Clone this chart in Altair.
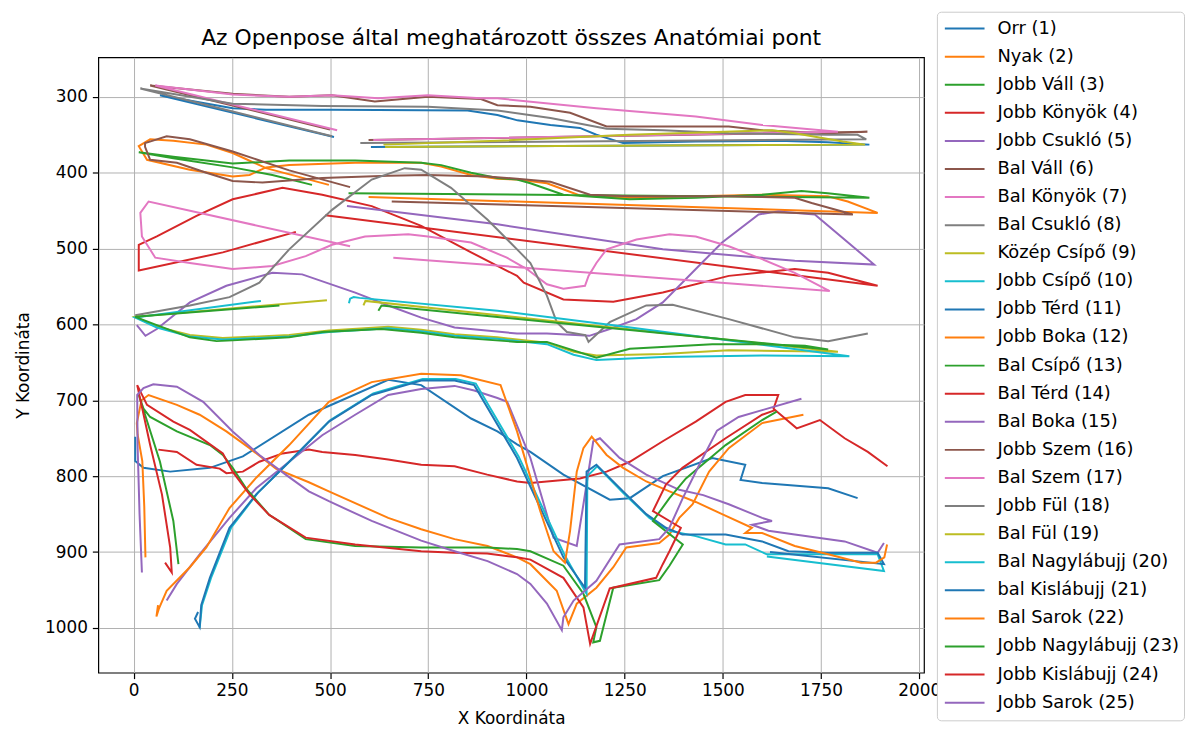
import altair as alt
import pandas as pd

NAMES = ["Orr (1)", "Nyak (2)", "Jobb Váll (3)", "Jobb Könyök (4)", "Jobb Csukló (5)",
         "Bal Váll (6)", "Bal Könyök (7)", "Bal Csukló (8)", "Közép Csípő (9)", "Jobb Csípő (10)",
         "Jobb Térd (11)", "Jobb Boka (12)", "Bal Csípő (13)", "Bal Térd (14)", "Bal Boka (15)",
         "Jobb Szem (16)", "Bal Szem (17)", "Jobb Fül (18)", "Bal Fül (19)", "Bal Nagylábujj (20)",
         "bal Kislábujj (21)", "Bal Sarok (22)", "Jobb Nagylábujj (23)", "Jobb Kislábujj (24)", "Jobb Sarok (25)"]

TAB10 = ["#1f77b4", "#ff7f0e", "#2ca02c", "#d62728", "#9467bd",
         "#8c564b", "#e377c2", "#7f7f7f", "#bcbd22", "#17becf"]

X_TICKS = [0, 250, 500, 750, 1000, 1250, 1500, 1750, 2000]
Y_TICKS = [300, 400, 500, 600, 700, 800, 900, 1000]

ORR_X = [510, 67, 252, 337, 505, 850, 926, 977, 1061, 1136, 1178, 1246, 1431, 1641, 1767, 1873, 604]
ORR_Y = [353, 298, 315, 317, 317, 318, 324, 331, 337, 341, 350, 361, 359, 358, 360, 363, 366]

NYAK_X = [497, 337, 252, 185, 101, 42, 13, 34, 143, 252, 295, 337, 396, 564, 732, 783, 859, 926, 976, 1052, 1136, 1263, 1431, 1600, 1767, 1818, 1894, 598]
NYAK_Y = [416, 394, 374, 363, 358, 356, 365, 383, 396, 405, 403, 393, 390, 387, 387, 392, 403, 408, 409, 414, 430, 433, 431, 429, 431, 438, 453, 432]

JVALL_X = [454, 353, 252, 101, 13, 101, 252, 396, 564, 732, 783, 859, 926, 976, 1010, 1094, 1263, 1431, 1600, 1700, 1767, 1873, 547]
JVALL_Y = [416, 403, 393, 381, 373, 379, 388, 384, 384, 387, 390, 400, 407, 409, 414, 429, 435, 433, 429, 424, 427, 433, 427]

JKONYOK_X = [413, 227, 13, 13, 59, 160, 252, 379, 480, 606, 732, 859, 976, 993, 1094, 1221, 1347, 1515, 1683, 1768, 1894, 488]
JKONYOK_Y = [478, 505, 529, 495, 484, 457, 435, 420, 429, 444, 470, 505, 536, 545, 567, 570, 558, 536, 527, 532, 549, 456]

JCSUKLO_X = [8, 30, 59, 143, 236, 353, 429, 564, 648, 732, 817, 976, 1052, 1160, 1212, 1280, 1347, 1448, 1498, 1591, 1641, 1734, 1885, 1683, 1347, 926, 543]
JCSUKLO_Y = [601, 615, 606, 571, 549, 532, 534, 558, 575, 591, 604, 612, 612, 615, 606, 593, 571, 518, 492, 455, 451, 455, 521, 516, 501, 468, 444]

BVALL_X = [551, 396, 252, 143, 84, 29, 29, 42, 110, 185, 252, 328, 480, 648, 749, 900, 976, 1061, 1162, 1263, 1515, 1683, 1726, 1831, 657]
BVALL_Y = [419, 397, 372, 356, 352, 361, 366, 383, 387, 400, 411, 413, 407, 404, 403, 405, 408, 412, 429, 431, 431, 433, 440, 455, 438]

BKONYOK_X = [551, 38, 17, 21, 55, 143, 252, 353, 438, 505, 589, 699, 749, 859, 950, 1001, 1052, 1094, 1149, 1158, 1178, 1204, 1280, 1364, 1431, 1515, 1600, 1683, 1772, 661]
BKONYOK_Y = [497, 438, 453, 484, 512, 519, 527, 523, 510, 495, 484, 481, 484, 492, 512, 527, 547, 553, 549, 536, 519, 501, 488, 481, 484, 497, 514, 532, 556, 512]

BCSUKLO_X = [4, 143, 244, 320, 396, 505, 606, 690, 732, 808, 901, 976, 1010, 1052, 1077, 1103, 1150, 1158, 1212, 1305, 1372, 1515, 1683, 1768, 1869]
BCSUKLO_Y = [588, 575, 564, 545, 501, 449, 409, 394, 396, 420, 462, 501, 519, 562, 597, 610, 614, 623, 597, 575, 574, 593, 617, 622, 612]

KCSIPO_X = [492, 4, 59, 143, 227, 396, 497, 648, 732, 817, 926, 1052, 1120, 1178, 1347, 1515, 1793, 590, 585]
KCSIPO_Y = [568, 590, 603, 614, 618, 614, 608, 603, 607, 613, 617, 624, 636, 641, 639, 634, 636, 569, 575]

JCSIPO_X = [548, 551, 560, 575, 926, 1221, 1822, 1600, 1347, 1178, 1120, 1052, 926, 817, 732, 648, 497, 396, 227, 143, 59, 4, 324]
JCSIPO_Y = [572, 566, 564, 565, 582, 601, 642, 641, 643, 647, 640, 626, 619, 615, 609, 605, 610, 616, 620, 616, 604, 591, 569]

JTERD_X = [4, 4, 25, 93, 194, 278, 446, 648, 732, 859, 926, 976, 1010, 1094, 1212, 1263, 1347, 1473, 1557, 1545, 1600, 1768, 1843]
JTERD_Y = [748, 780, 789, 794, 789, 774, 719, 673, 680, 724, 741, 758, 768, 798, 831, 829, 800, 776, 785, 805, 809, 816, 829]

JBOKA_X = [30, 27, 22, 10, 8, 20, 38, 110, 168, 236, 295, 362, 446, 497, 648, 732, 817, 901, 976, 1010, 1077, 1107, 1128, 1178, 1221, 1254, 1338, 1364, 1389, 1423, 1465, 1515, 1600, 1705]
JBOKA_Y = [907, 840, 780, 745, 730, 700, 693, 706, 719, 741, 763, 790, 808, 820, 855, 870, 883, 892, 907, 916, 951, 995, 968, 947, 920, 894, 888, 877, 855, 837, 794, 763, 730, 719]

BCSIPO_X = [371, 4, 59, 143, 211, 252, 396, 480, 631, 732, 817, 976, 1052, 1178, 1263, 1473, 1600, 1709, 1768, 631, 623]
BCSIPO_Y = [575, 590, 601, 617, 622, 621, 617, 610, 606, 611, 617, 623, 623, 644, 632, 626, 626, 628, 633, 575, 582]

BTERD_X = [63, 110, 160, 219, 236, 278, 320, 379, 446, 480, 564, 648, 732, 817, 900, 976, 1010, 1136, 1204, 1263, 1347, 1431, 1507, 1557, 1641, 1629, 1688, 1747, 1810, 1869, 1919]
BTERD_Y = [765, 768, 785, 790, 796, 794, 781, 770, 765, 768, 772, 778, 785, 787, 798, 807, 809, 803, 794, 781, 754, 728, 702, 693, 693, 711, 737, 726, 750, 768, 787]

BBOKA_X = [84, 110, 168, 244, 312, 396, 480, 564, 648, 732, 817, 867, 926, 951, 1010, 1069, 1128, 1145, 1170, 1187, 1237, 1305, 1389, 1450, 1515, 1600, 1625, 1574, 1616, 1683, 1810, 1894, 1910]
BBOKA_Y = [964, 942, 903, 855, 816, 781, 746, 719, 693, 685, 681, 687, 697, 702, 776, 881, 892, 837, 754, 750, 776, 798, 818, 825, 837, 855, 859, 864, 872, 877, 886, 901, 888]

JSZEM_X = [500, 42, 252, 396, 505, 614, 749, 884, 926, 1010, 1111, 1204, 1347, 1515, 1600, 1767, 1868, 598]
JSZEM_Y = [343, 285, 296, 300, 298, 306, 300, 303, 311, 313, 321, 339, 339, 339, 344, 348, 346, 357]

BSZEM_X = [518, 55, 252, 396, 505, 623, 749, 884, 926, 1178, 1431, 1600, 1793, 610]
BSZEM_Y = [344, 285, 297, 300, 298, 302, 298, 302, 302, 315, 326, 337, 346, 357]

JFUL_X = [505, 17, 252, 480, 749, 926, 1061, 1204, 1347, 1515, 1767, 1843, 1865, 577]
JFUL_Y = [352, 289, 309, 312, 313, 318, 328, 342, 344, 348, 350, 350, 356, 361]

BFUL_X = [636, 926, 1262, 1625, 1683, 1805, 1862, 640]
BFUL_Y = [363, 358, 350, 344, 348, 359, 363, 366]

BNAGY_X = [168, 174, 197, 248, 316, 400, 501, 610, 736, 820, 871, 980, 1098, 1153, 1155, 1180, 1246, 1313, 1364, 1431, 1507, 1557, 1612, 1683, 1894, 1910, 1612]
BNAGY_Y = [1000, 970, 934, 868, 822, 779, 726, 691, 672, 672, 678, 774, 905, 955, 800, 787, 822, 855, 872, 879, 890, 890, 903, 903, 903, 925, 906]

BKIS_X = [164, 156, 168, 172, 194, 244, 312, 396, 497, 606, 732, 817, 867, 976, 1094, 1149, 1153, 1178, 1246, 1305, 1355, 1397, 1507, 1600, 1667, 1768, 1894, 1910, 1620]
BKIS_Y = [979, 988, 999, 970, 934, 868, 824, 781, 728, 693, 674, 674, 680, 776, 907, 947, 794, 785, 820, 850, 868, 877, 877, 886, 899, 901, 901, 916, 900]

BSAROK_X = [62, 58, 64, 84, 143, 185, 244, 312, 396, 497, 606, 732, 833, 934, 976, 1035, 1069, 1098, 1111, 1128, 1145, 1166, 1204, 1246, 1305, 1364, 1431, 1498, 1574, 1557, 1600, 1683, 1768, 1852, 1890, 1911, 1918]
BSAROK_Y = [970, 985, 975, 951, 920, 894, 842, 802, 759, 702, 676, 665, 667, 680, 741, 846, 899, 914, 872, 794, 763, 748, 772, 789, 807, 820, 834, 850, 868, 875, 875, 892, 903, 914, 914, 907, 890]

JNAGY_X = [114, 101, 67, 13, 25, 42, 110, 194, 227, 252, 286, 345, 438, 564, 732, 900, 976, 1010, 1094, 1145, 1178, 1170, 1187, 1204, 1221, 1338, 1364, 1398, 1322, 1364, 1406, 1507, 1600, 1637]
JNAGY_Y = [916, 859, 781, 693, 711, 722, 741, 759, 772, 789, 816, 851, 883, 892, 894, 894, 896, 899, 918, 955, 999, 1019, 1017, 982, 947, 937, 918, 890, 859, 829, 803, 759, 726, 715]

JKIS_X = [80, 97, 93, 72, 42, 9, 34, 101, 143, 227, 252, 295, 345, 438, 564, 732, 817, 900, 976, 1010, 1094, 1145, 1162, 1212, 1330, 1347, 1364, 1393, 1322, 1355, 1397, 1507, 1600, 1633]
JKIS_Y = [914, 927, 894, 824, 759, 680, 706, 728, 739, 770, 794, 824, 851, 881, 890, 899, 901, 902, 907, 910, 934, 973, 1021, 948, 934, 916, 899, 868, 846, 811, 789, 750, 719, 713]

JSAROK_X = [21, 15, 10, 9, 25, 50, 110, 177, 252, 320, 387, 446, 497, 606, 732, 817, 901, 976, 1010, 1052, 1090, 1094, 1120, 1178, 1237, 1338, 1364, 1397, 1440, 1485, 1540, 1600, 1700]
JSAROK_Y = [927, 850, 760, 693, 684, 679, 682, 702, 741, 772, 798, 820, 833, 859, 885, 899, 912, 929, 942, 968, 1003, 986, 964, 938, 890, 883, 868, 830, 785, 740, 722, 713, 698]

SERIES = [
    (ORR_X, ORR_Y), (NYAK_X, NYAK_Y), (JVALL_X, JVALL_Y), (JKONYOK_X, JKONYOK_Y),
    (JCSUKLO_X, JCSUKLO_Y), (BVALL_X, BVALL_Y), (BKONYOK_X, BKONYOK_Y), (BCSUKLO_X, BCSUKLO_Y),
    (KCSIPO_X, KCSIPO_Y), (JCSIPO_X, JCSIPO_Y), (JTERD_X, JTERD_Y), (JBOKA_X, JBOKA_Y),
    (BCSIPO_X, BCSIPO_Y), (BTERD_X, BTERD_Y), (BBOKA_X, BBOKA_Y), (JSZEM_X, JSZEM_Y),
    (BSZEM_X, BSZEM_Y), (JFUL_X, JFUL_Y), (BFUL_X, BFUL_Y), (BNAGY_X, BNAGY_Y),
    (BKIS_X, BKIS_Y), (BSAROK_X, BSAROK_Y), (JNAGY_X, JNAGY_Y), (JKIS_X, JKIS_Y),
    (JSAROK_X, JSAROK_Y),
]

rows = []
for name, (xs, ys) in zip(NAMES, SERIES):
    for i, (xv, yv) in enumerate(zip(xs, ys)):
        rows.append({"pont": name, "i": i, "x": xv, "y": yv})
df = pd.DataFrame(rows)

colors = [TAB10[k % 10] for k in range(len(NAMES))]
FONT = "DejaVu Sans"

chart = alt.Chart(df).mark_line(strokeWidth=2).encode(
    x=alt.X("x:Q", scale=alt.Scale(domain=[-90, 2012], nice=False, zero=False),
            axis=alt.Axis(values=X_TICKS, format="d", title="X Koordináta",
                          labelPadding=4, titlePadding=12)),
    y=alt.Y("y:Q", scale=alt.Scale(domain=[1059, 248], nice=False, zero=False),
            axis=alt.Axis(values=Y_TICKS, format="d", title="Y Koordináta",
                          labelPadding=5, titlePadding=12)),
    color=alt.Color("pont:N", sort=NAMES,
                    scale=alt.Scale(domain=NAMES, range=colors),
                    legend=alt.Legend(title=None, orient="none", legendX=845, legendY=-46,
                                      symbolType="stroke", symbolSize=1600, symbolStrokeWidth=2,
                                      symbolOffset=3, clipHeight=26, rowPadding=2.3,
                                      labelFontSize=18, labelFont=FONT, labelColor="black",
                                      labelLimit=400, labelOffset=12,
                                      padding=4, strokeColor="#cccccc", fillColor="white",
                                      cornerRadius=4)),
    order="i:Q",
).properties(
    width=832, height=620,
    title=alt.Title("Az Openpose által meghatározott összes Anatómiai pont",
                    fontSize=22, font=FONT, fontWeight="normal", color="black",
                    anchor="middle", offset=9, frame="group", dy=48),
    padding={"left": 6, "top": 0, "right": 0, "bottom": 0},
).configure_view(
    stroke="black", strokeWidth=1.2
).configure_axis(
    grid=True, gridColor="#b0b0b0", gridWidth=1, domain=False,
    tickColor="black", tickSize=6, tickWidth=1.2,
    labelFont=FONT, labelFontSize=17, labelColor="black",
    titleFont=FONT, titleFontSize=17, titleFontWeight="normal", titleColor="black",
)

chart.save("out.html", embed_options={"renderer": "svg", "actions": False})
